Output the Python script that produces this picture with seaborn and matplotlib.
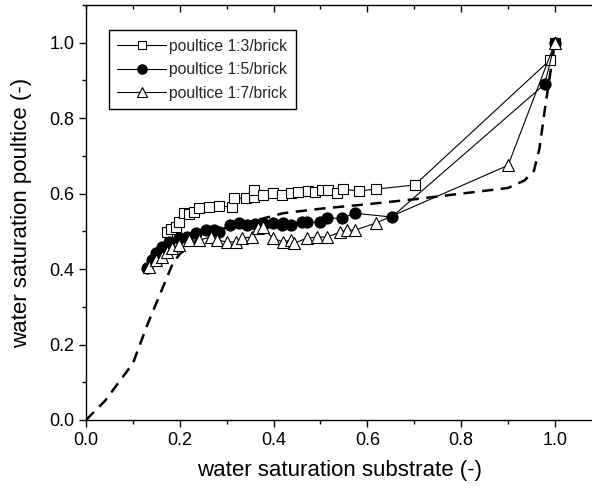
import matplotlib
matplotlib.use("Agg")
import matplotlib.pyplot as plt
import seaborn as sns
from matplotlib.ticker import MultipleLocator, FormatStrFormatter
from matplotlib.lines import Line2D

sns.set_theme(style="white")
plt.rcParams['font.family'] = ['Liberation Sans', 'DejaVu Sans']

labels = ["poultice 1:3/brick", "poultice 1:5/brick", "poultice 1:7/brick"]

sq_x = [0.172, 0.182, 0.192, 0.199, 0.209, 0.22, 0.231, 0.242, 0.263, 0.284, 0.312, 0.316, 0.342,
        0.359, 0.359, 0.377, 0.398, 0.417, 0.437, 0.452, 0.474, 0.488, 0.503, 0.516,
        0.535, 0.549, 0.582, 0.619, 0.701, 0.99, 1.0]
sq_y = [0.498, 0.505, 0.512, 0.524, 0.548, 0.545, 0.551, 0.561, 0.565, 0.567, 0.565, 0.588, 0.588,
        0.59, 0.61, 0.596, 0.601, 0.596, 0.601, 0.604, 0.607, 0.604, 0.609, 0.609,
        0.601, 0.612, 0.607, 0.612, 0.623, 0.955, 1.0]

ci_x = [0.13, 0.14, 0.15, 0.163, 0.178, 0.198, 0.216, 0.235, 0.256, 0.273, 0.284,
        0.306, 0.327, 0.343, 0.36, 0.38, 0.398, 0.417, 0.42, 0.437, 0.46, 0.471,
        0.499, 0.514, 0.546, 0.573, 0.652, 0.978, 1.0]
ci_y = [0.403, 0.424, 0.442, 0.458, 0.472, 0.482, 0.485, 0.495, 0.503, 0.503, 0.498,
        0.517, 0.522, 0.517, 0.52, 0.52, 0.522, 0.517, 0.522, 0.517, 0.524, 0.524,
        0.524, 0.535, 0.535, 0.548, 0.538, 0.89, 1.0]

tr_x = [0.135, 0.15, 0.161, 0.173, 0.184, 0.198, 0.22, 0.241, 0.267, 0.28, 0.3,
        0.32, 0.333, 0.353, 0.366, 0.377, 0.398, 0.42, 0.437, 0.444, 0.471, 0.493,
        0.514, 0.542, 0.556, 0.573, 0.618, 0.9, 1.0]
tr_y = [0.405, 0.424, 0.432, 0.445, 0.456, 0.464, 0.477, 0.477, 0.485, 0.477, 0.472,
        0.472, 0.482, 0.485, 0.509, 0.511, 0.482, 0.472, 0.477, 0.469, 0.482, 0.485,
        0.485, 0.498, 0.503, 0.503, 0.522, 0.675, 1.0]

dash_x = [0.0, 0.04, 0.07, 0.10, 0.13, 0.16, 0.185, 0.2, 0.25, 0.3, 0.38, 0.42, 0.5,
          0.6, 0.7, 0.8, 0.9, 0.935, 0.955, 0.967, 0.978, 0.99, 1.0]
dash_y = [0.0, 0.05, 0.10, 0.15, 0.25, 0.34, 0.415, 0.44, 0.49, 0.51, 0.535, 0.548,
          0.56, 0.572, 0.585, 0.60, 0.615, 0.635, 0.66, 0.72, 0.82, 0.92, 1.0]

fig = plt.figure(figsize=(5.92, 4.95), dpi=100)
ax = fig.add_axes([86/592, 75/495, 506.5/592, 415/495])

sns.lineplot(x=dash_x, y=dash_y, ax=ax, sort=False, estimator=None, color='black',
             linewidth=1.8, linestyle=(0, (4.5, 3)), legend=False)

styles = [
    dict(marker='s', markersize=7, markerfacecolor='white'),
    dict(marker='o', markersize=8, markerfacecolor='black'),
    dict(marker='^', markersize=8.5, markerfacecolor='white'),
]
series = [(sq_x, sq_y), (ci_x, ci_y), (tr_x, tr_y)]
handles = []
for (xs, ys), st, lab in zip(series, styles, labels):
    sns.lineplot(x=xs, y=ys, ax=ax, sort=False, estimator=None, color='black',
                 linewidth=0.8, markeredgecolor='black', markeredgewidth=0.8,
                 legend=False, **st)
    handles.append(Line2D([], [], color='black', linewidth=0.8,
                          markeredgecolor='black', markeredgewidth=0.8,
                          label=lab, **{**st, 'markersize': st['markersize'] * 0.85}))

ax.set_xlim(0, 1.08)
ax.set_ylim(0, 1.1)
for axis in (ax.xaxis, ax.yaxis):
    axis.set_major_locator(MultipleLocator(0.2))
    axis.set_minor_locator(MultipleLocator(0.1))
    axis.set_major_formatter(FormatStrFormatter('%.1f'))

for sp in ax.spines.values():
    sp.set_color('black')
    sp.set_linewidth(1.0)

ax.tick_params(which='both', direction='out', color='black', width=1.0,
               labelsize=13, labelcolor='black', bottom=True, left=True,
               top=False, right=False)
ax.tick_params(which='major', length=5)
ax.tick_params(which='minor', length=3)

ax2 = ax.secondary_xaxis('top')
ax2.set_xticks([0.2, 0.4, 0.6, 0.8, 1.0])
ax2.xaxis.set_minor_locator(MultipleLocator(0.1))
ax2.tick_params(which='both', direction='in', labeltop=False, color='black', width=1.0)
ax2.tick_params(which='major', length=5)
ax2.tick_params(which='minor', length=3)
ax2.spines['top'].set_visible(False)

ax.set_xlabel("water saturation substrate (-)", fontsize=16, color='black', labelpad=8)
ax.set_ylabel("water saturation poultice (-)", fontsize=16, color='black', labelpad=12)

leg = ax.legend(handles=handles, loc='upper left', bbox_to_anchor=(0.045, 0.94),
                borderaxespad=0, fontsize=11.3, frameon=True, fancybox=False,
                handlelength=3.1, handletextpad=0.2, labelspacing=0.55,
                borderpad=0.55)
leg.get_frame().set_edgecolor('black')
leg.get_frame().set_linewidth(1.0)
leg.get_frame().set_alpha(1)

fig.savefig("out.png", dpi=100)
